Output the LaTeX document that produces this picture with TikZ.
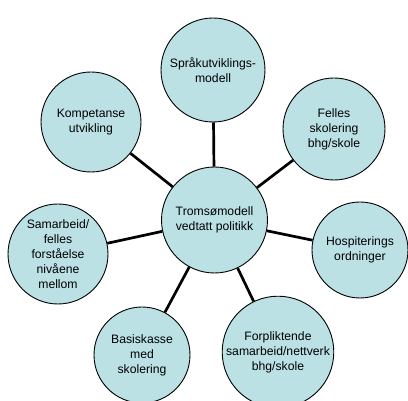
\documentclass[tikz,border=0pt]{standalone}
\usepackage{fontspec}
\setmainfont{Liberation Sans}
\definecolor{bubble}{RGB}{187,225,229}
\begin{document}
\begin{tikzpicture}[x=1pt,y=-1pt,
  bub/.style={circle,draw=black,line width=0.9pt,fill=bubble,minimum size=100pt,inner sep=0pt,align=center,font=\fontsize{12.2}{15}\selectfont},
  spoke/.style={line width=2.7pt,black}]
\useasboundingbox (0,0) rectangle (408,401);
\node[bub,minimum size=106pt] (c) at (214.5,220) {Tromsømodell\\vedtatt politikk};
\node[bub,minimum size=104pt] (s) at (213,70) {Språkutviklings-\\modell};
\node[bub,minimum size=102pt] (f) at (334,129) {Felles\\skolering\\bhg/skole};
\node[bub,minimum size=96pt] (h) at (360,250) {Hospiterings\\ordninger};
\node[bub] (p) at (278,352) {Forpliktende\\samarbeid/nettverk\\bhg/skole};
\node[bub,minimum size=96pt] (b) at (142,355) {Basiskasse\\med\\skolering};
\node[bub] (m) at (58,254) {Samarbeid/\\felles\\forståelse\\nivåene\\mellom};
\node[bub] (k) at (91,122) {Kompetanse\\utvikling};
\foreach \n in {s,f,h,p,b,m,k} \draw[spoke] (c) -- (\n);
\end{tikzpicture}
\end{document}
